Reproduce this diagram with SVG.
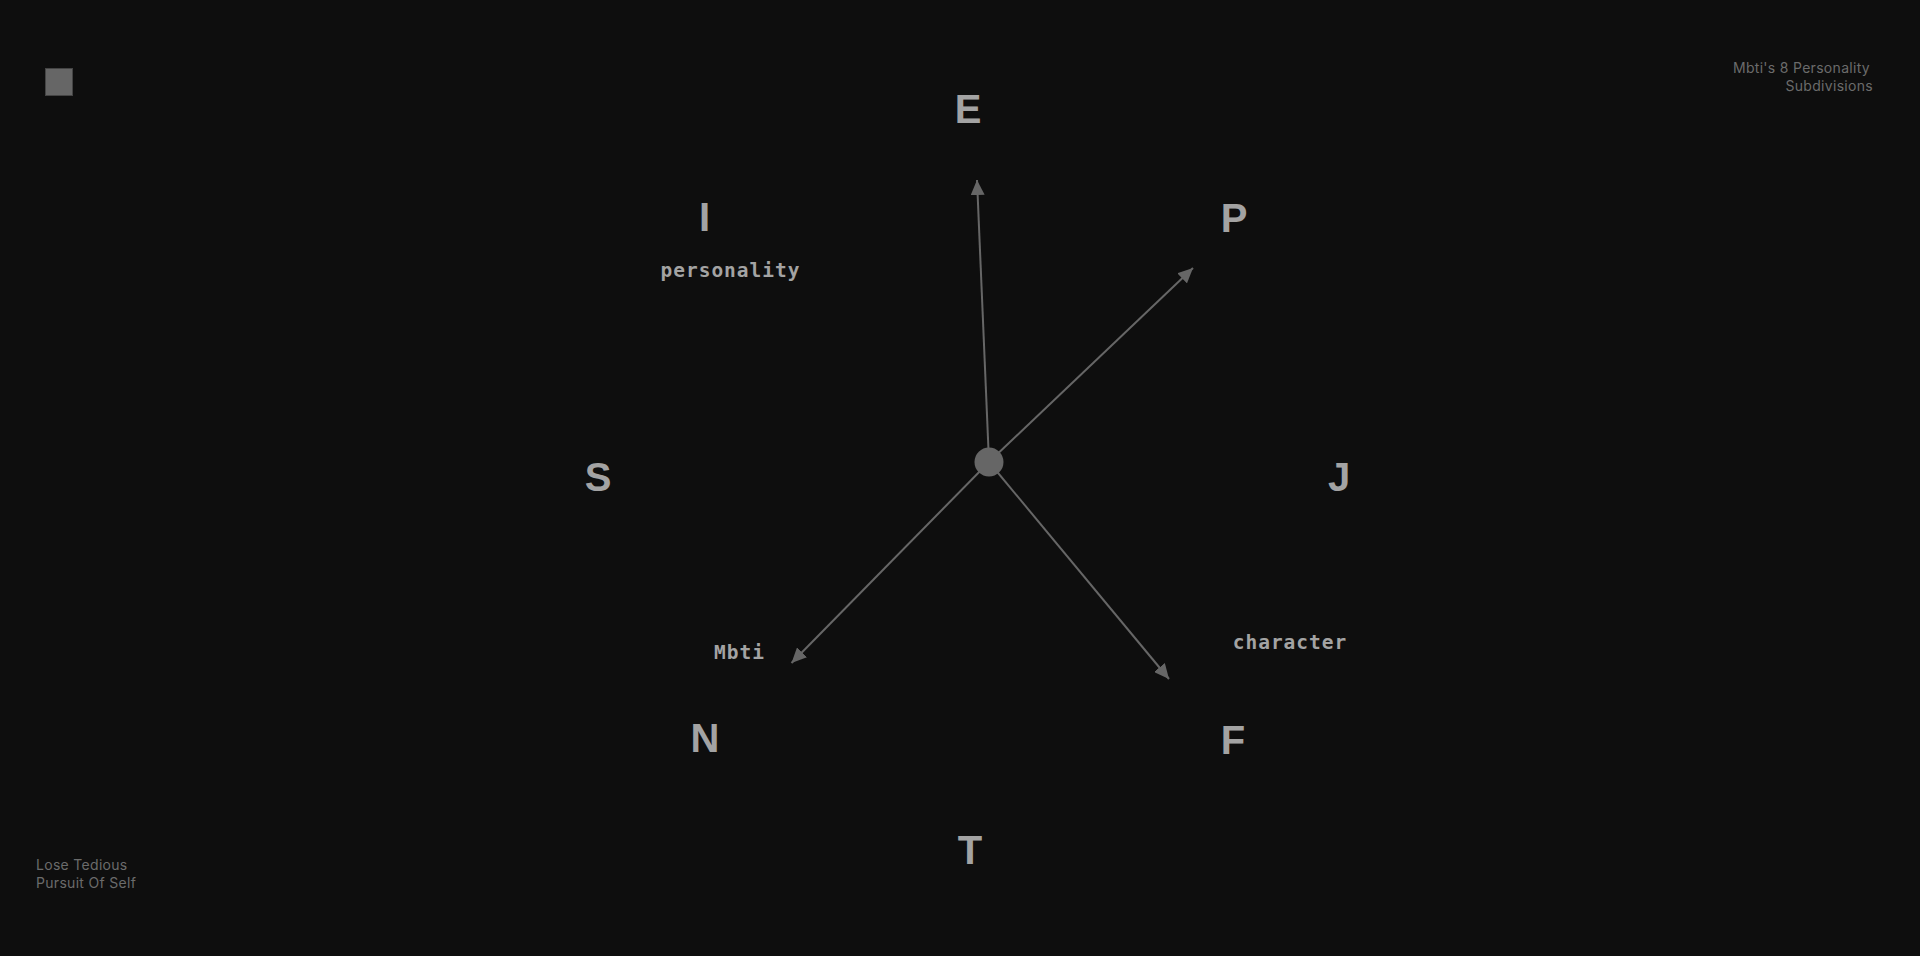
<svg xmlns="http://www.w3.org/2000/svg" width="1920" height="956" viewBox="0 0 1920 956">
<defs>
<style>
.bg{fill:#0e0e0e}
.letter{font-family:"Liberation Sans",Arial,sans-serif;font-weight:bold;font-size:40px;fill:#a3a3a3;text-anchor:middle}
.sub{font-family:"DejaVu Sans Mono","Liberation Mono",monospace;font-weight:bold;font-size:19.5px;letter-spacing:1px;fill:#a3a3a3;text-anchor:middle}
.corner{font-family:Inter,"Liberation Sans",sans-serif;font-size:14px;letter-spacing:0.3px;fill:#6b6b6b}
.conn{stroke:#666;stroke-width:2;fill:none;marker-end:url(#arr)}
</style>
<marker id="arr" markerUnits="userSpaceOnUse" markerWidth="16" markerHeight="14" refX="15" refY="7" orient="auto">
<path d="M0,0 L15,7 L0,14 z" fill="#666"/>
</marker>
</defs>
<rect class="bg" x="0" y="0" width="1920" height="956"/>
<g id="logo"><rect x="45.5" y="68.5" width="27" height="27" fill="#666" stroke="#444" stroke-width="1"/></g>
<g id="title"><text class="corner" text-anchor="end"><tspan x="1870" y="73">Mbti's 8 Personality</tspan><tspan x="1873" y="91">Subdivisions</tspan></text></g>
<g id="footer"><text class="corner"><tspan x="36" y="870">Lose Tedious</tspan><tspan x="36" y="888">Pursuit Of Self</tspan></text></g>
<g id="connectors">
<line class="conn" x1="989" y1="462" x2="977" y2="180"/>
<line class="conn" x1="989" y1="462" x2="1193" y2="268"/>
<line class="conn" x1="989" y1="462" x2="791.5" y2="663"/>
<line class="conn" x1="989" y1="462" x2="1169" y2="679"/>
</g>
<g id="center"><circle cx="989" cy="462" r="14.5" fill="#666"/></g>
<g id="node-E"><text class="letter" x="968" y="123">E</text></g>
<g id="node-I"><text class="letter" x="704.5" y="231">I</text></g>
<g id="node-P"><text class="letter" x="1234" y="231.5">P</text></g>
<g id="node-S"><text class="letter" x="598" y="491">S</text></g>
<g id="node-J"><text class="letter" x="1339" y="491">J</text></g>
<g id="node-N"><text class="letter" x="705" y="751.5">N</text></g>
<g id="node-F"><text class="letter" x="1233" y="754">F</text></g>
<g id="node-T"><text class="letter" x="970" y="864">T</text></g>
<g id="label-personality"><text class="sub" x="730.5" y="277">personality</text></g>
<g id="label-mbti"><text class="sub" x="739.5" y="659">Mbti</text></g>
<g id="label-character"><text class="sub" x="1290" y="649">character</text></g>
</svg>
